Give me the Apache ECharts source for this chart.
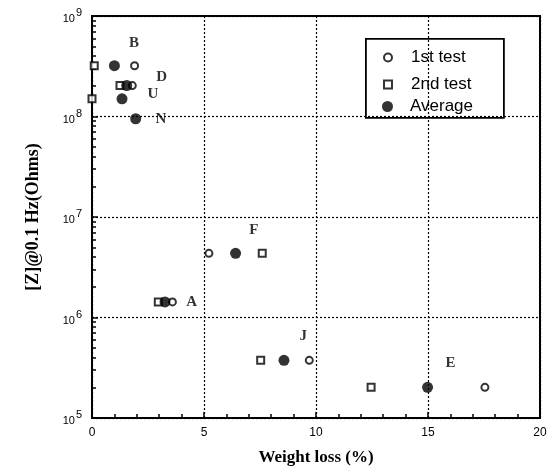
<!DOCTYPE html>
<html><head><meta charset="utf-8">
<script src="https://cdn.jsdelivr.net/npm/echarts@6/dist/echarts.min.js"></script>
<style>html,body{margin:0;padding:0;background:#fff}#c{width:557px;height:472px}</style>
</head><body><div id="c"></div>
<script>
// Data: [weight loss %, |Z| ohms]
var firstTest = [[1.9, 3.2e8],[1.8, 2.03e8],[5.22, 4.35e6],[3.59, 1.43e6],[9.7, 3.75e5],[17.54, 2.02e5]];
var secondTest = [[0.1, 3.2e8],[1.25, 2.03e8],[0, 1.5e8],[7.6, 4.35e6],[2.96, 1.43e6],[7.53, 3.75e5],[12.46, 2.02e5]];
var average = [[1.0, 3.2e8],[1.55, 2.03e8],[1.34, 1.5e8],[1.95, 9.5e7],[6.41, 4.35e6],[3.26, 1.43e6],[8.57, 3.75e5],[14.98, 2.02e5]];
var sampleNames = ['B','D','U','N','F','A','J','E'];
var sampleLabelPos = [[1.875, 5.4e8],[3.11, 2.47e8],[2.72, 1.68e8],[3.08, 9.5e7],[7.23, 7.4e6],[4.45, 1.43e6],[9.43, 6.5e5],[16.0, 3.5e5]];
var xTicks = [0,5,10,15,20];
var xMinorTicks = [0,1,2,3,4,5,6,7,8,9,10,11,12,13,14,15,16,17,18,19,20];
var yTicks = [1e5,1e6,1e7,1e8,1e9];
var yMinorTicks = (function(){var a=[];[5,6,7,8].forEach(function(e){[1,2,3,4,5,6,7,8,9].forEach(function(m){a.push(m*Math.pow(10,e));});});a.push(1e9);return a;})();

var chart = echarts.init(document.getElementById('c'));
var serif = 'Liberation Serif';
var sans = 'Liberation Sans';
var dotted = {color:'#000',type:[2,2],width:1.2};
chart.setOption({
  animation:false,
  backgroundColor:'#fff',
  grid:{left:92,right:17,top:16,bottom:54,show:true,borderColor:'#000',borderWidth:2},
  xAxis:[{type:'value',min:0,max:20,interval:5,
    axisLine:{show:true,lineStyle:{color:'#000',width:2}},
    axisTick:{show:true,inside:true,length:6,lineStyle:{color:'#000',width:1.5}},
    axisLabel:{color:'#000',fontFamily:sans,fontSize:12,margin:9},
    splitLine:{show:true,lineStyle:dotted},
    name:'Weight loss (%)',nameLocation:'middle',nameGap:31,
    nameTextStyle:{fontFamily:serif,fontWeight:'bold',fontSize:17,color:'#000'}},
   {type:'value',min:0,max:20,position:'bottom',
    axisLine:{show:false},
    axisTick:{show:true,inside:true,length:4,customValues:xMinorTicks,lineStyle:{color:'#000',width:1.5}},
    axisLabel:{show:false},splitLine:{show:false}}],
  yAxis:[{type:'log',min:1e5,max:1e9,logBase:10,
    axisLine:{show:true,lineStyle:{color:'#000',width:2}},
    axisTick:{show:true,inside:true,length:6,lineStyle:{color:'#000',width:1.5}},
    axisLabel:{customValues:yTicks,color:'#000',margin:10,
      formatter:function(v){var e=Math.round(Math.log10(v));return '{b|10}{s|'+e+'}';},
      rich:{b:{fontFamily:sans,fontSize:11,color:'#000',padding:[6,0,0,0]},s:{fontFamily:sans,fontSize:11,color:'#000',padding:[0,0,6,1]}}},
    splitLine:{show:true,lineStyle:dotted},
    name:'[Z]@0.1 Hz(Ohms)',nameLocation:'middle',nameGap:50,
    nameTextStyle:{fontFamily:serif,fontWeight:'bold',fontSize:18,color:'#000'}},
   {type:'log',min:1e5,max:1e9,logBase:10,position:'left',
    axisLine:{show:false},
    axisTick:{show:true,inside:true,length:4,customValues:yMinorTicks,lineStyle:{color:'#000',width:1.5}},
    axisLabel:{show:false},splitLine:{show:false}}],
  legend:[
    {data:['1st test'],orient:'vertical',left:378,top:44,itemWidth:8,itemHeight:8,itemGap:0,
     textStyle:{fontFamily:sans,fontSize:17,color:'#000',padding:[0,0,0,14]}},
    {data:['2nd test'],orient:'vertical',left:378,top:71,itemWidth:8,itemHeight:8,
     textStyle:{fontFamily:sans,fontSize:17,color:'#000',padding:[0,0,0,14]}},
    {data:['Average'],orient:'vertical',left:377,top:93,itemWidth:11,itemHeight:11,
     textStyle:{fontFamily:sans,fontSize:17,color:'#000',padding:[0,0,0,12]}}
  ],
  graphic:[{type:'rect',left:365,top:38,shape:{width:138,height:79},style:{fill:'#fff',stroke:'#000',lineWidth:1.8},z:-1,zlevel:0}],
  series:[
    {name:'1st test',type:'scatter',data:firstTest,symbol:'circle',symbolSize:7,
     itemStyle:{color:'#fff',borderColor:'#000',borderWidth:2},z:3},
    {name:'2nd test',type:'scatter',data:secondTest,symbol:'rect',symbolSize:7,
     itemStyle:{color:'#fff',borderColor:'#000',borderWidth:2},z:3},
    {name:'Average',type:'scatter',data:average,symbol:'circle',symbolSize:11,
     itemStyle:{color:'#000'},z:4},
    {name:'labels',type:'scatter',symbolSize:0,silent:true,
     data:sampleLabelPos.map(function(p,i){return {value:p,name:sampleNames[i]};}),
     label:{show:true,position:'inside',formatter:'{b}',fontFamily:serif,fontWeight:'bold',fontSize:15,color:'#000'},z:5}
  ]
});
</script></body></html>
